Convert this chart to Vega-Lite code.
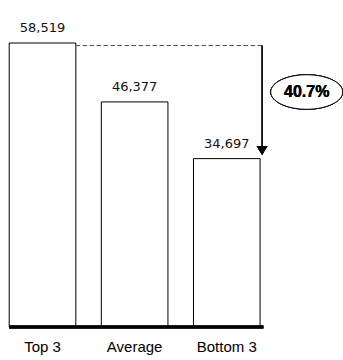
{
  "$schema": "https://vega.github.io/schema/vega-lite/v6.json",
  "width": 343,
  "height": 327,
  "autosize": "none",
  "padding": {"left": 0, "right": 0, "top": 0, "bottom": 33},
  "background": "white",
  "config": {"view": {"stroke": null}},
  "data": {
    "values": [
      {"group": "Top 3", "value": 58519},
      {"group": "Average", "value": 46377},
      {"group": "Bottom 3", "value": 34697}
    ]
  },
  "encoding": {
    "x": {
      "field": "group",
      "type": "nominal",
      "sort": null,
      "scale": {"paddingInner": 0.277, "paddingOuter": 0.5, "align": 0.1},
      "axis": {
        "title": null,
        "domain": false,
        "ticks": false,
        "labelAngle": 0,
        "labelFont": "Liberation Sans",
        "labelFontSize": 15,
        "labelColor": "#000000",
        "labelPadding": 12
      }
    },
    "y": {
      "field": "value",
      "type": "quantitative",
      "scale": {"domain": [0, 67380], "nice": false, "zero": true},
      "axis": null
    }
  },
  "layer": [
    {
      "mark": {"type": "bar", "fill": "white", "stroke": "#000000", "strokeWidth": 1}
    },
    {
      "mark": {"type": "text", "font": "DejaVu Sans", "fontSize": 13, "baseline": "alphabetic", "dy": -11, "color": "#111111"},
      "encoding": {"text": {"field": "value", "type": "quantitative", "format": ","}}
    },
    {
      "mark": {"type": "rule", "color": "#555555", "strokeWidth": 1, "strokeDash": [4, 3]},
      "encoding": {
        "x": {"datum": "Top 3", "bandPosition": 1},
        "x2": {"datum": "Bottom 3", "bandPosition": 1.03},
        "y": {"datum": 58000}
      }
    },
    {
      "mark": {"type": "rule", "color": "#000000", "strokeWidth": 1},
      "encoding": {
        "x": {"datum": "Bottom 3", "bandPosition": 1.03},
        "y": {"datum": 58000},
        "y2": {"datum": 37295}
      }
    },
    {
      "mark": {"type": "point", "shape": "M-1,-0.8L1,-0.8L0,0.8Z", "size": 121, "filled": true, "color": "#000000", "opacity": 1},
      "encoding": {
        "x": {"datum": "Bottom 3", "bandPosition": 1.03},
        "y": {"datum": 36368}
      }
    },
    {
      "mark": {"type": "rule", "color": "#000000", "strokeWidth": 3},
      "encoding": {
        "x": {"datum": "Top 3", "bandPosition": 0},
        "x2": {"datum": "Bottom 3", "bandPosition": 1.05},
        "y": {"datum": 0}
      }
    },
    {
      "mark": {"type": "point", "shape": "M-1,0A1,0.48 0 1,1 1,0A1,0.48 0 1,1 -1,0Z", "size": 5184, "filled": true, "fill": "white", "stroke": "#000000", "strokeWidth": 1, "opacity": 1},
      "encoding": {
        "x": {"datum": "Bottom 3", "bandPosition": 1.7},
        "y": {"datum": 48422}
      }
    },
    {
      "mark": {"type": "text", "text": "40.7%", "font": "Liberation Sans", "fontSize": 16, "fontWeight": "bold", "baseline": "middle", "color": "#000000"},
      "encoding": {
        "x": {"datum": "Bottom 3", "bandPosition": 1.7},
        "y": {"datum": 48422}
      }
    }
  ]
}
